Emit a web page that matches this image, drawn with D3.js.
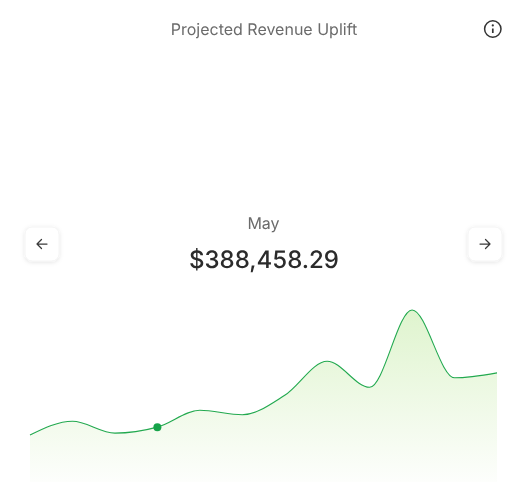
<!DOCTYPE html>
<html><head><meta charset="utf-8">
<script src="https://cdn.jsdelivr.net/npm/d3@7/dist/d3.min.js"></script>
<style>html,body{margin:0;padding:0;background:#fff}svg{display:block}text{font-family:Inter,sans-serif;text-rendering:geometricPrecision}#txt{will-change:transform}</style>
</head><body>
<svg id="c" width="526" height="489"></svg>
<script>
const months = ["Feb","Mar","Apr","May","Jun","Jul","Aug","Sep","Oct","Nov","Dec","Jan"];
const revenue = [332000,430000,346000,388458.29,508000,476000,614000,855000,671000,1218000,738000,773000];
const selectedMonth = "May";
const title = "Projected Revenue Uplift";

const svg = d3.select("#c");
const x = d3.scalePoint().domain(months).range([30,497]);
const y = d3.scaleLinear().domain([0,1218000]).range([482,310]);

const defs = svg.append("defs");
const grad = defs.append("linearGradient").attr("id","g").attr("x1",0).attr("x2",0).attr("y1",0).attr("y2",1);
grad.append("stop").attr("offset",0).attr("stop-color","#dff4ce");
grad.append("stop").attr("offset",1).attr("stop-color","#fdfefc");
const sh = defs.append("filter").attr("id","sh").attr("x","-30%").attr("y","-30%").attr("width","160%").attr("height","160%");
sh.append("feDropShadow").attr("dx",0).attr("dy",1).attr("stdDeviation",2).attr("flood-color","#000").attr("flood-opacity",0.11);

const area = d3.area().x((d,i)=>x(months[i])).y0(y(0)).y1(d=>y(d)).curve(d3.curveMonotoneX);
const line = d3.line().x((d,i)=>x(months[i])).y(d=>y(d)).curve(d3.curveMonotoneX);
svg.append("path").attr("d",area(revenue)).attr("fill","url(#g)");
svg.append("path").attr("d",line(revenue)).attr("fill","none").attr("stroke","#22a94f").attr("stroke-width",1.1);
const si = months.indexOf(selectedMonth);
svg.append("circle").attr("cx",x(selectedMonth)).attr("cy",y(revenue[si])).attr("r",4).attr("fill","#16a34a");

const txt = svg.append("g").attr("id","txt");
txt.append("text").attr("x",264).attr("y",35).attr("text-anchor","middle").attr("font-size",16).attr("fill","#6b6b6b").text(title);
txt.append("text").attr("x",263.5).attr("y",229).attr("text-anchor","middle").attr("font-size",16).attr("fill","#6b6b6b").text(selectedMonth);
txt.append("text").attr("x",264).attr("y",268).attr("text-anchor","middle").attr("font-size",24).attr("font-weight",500).attr("fill","#2b2b2b").text(d3.format("$,.2f")(revenue[si]));

// info icon
const info = svg.append("g").attr("transform","translate(492.8,29)").attr("fill","none").attr("stroke","#333");
info.append("circle").attr("r",8.2).attr("stroke-width",1.5);
info.append("line").attr("y1",-0.5).attr("y2",4).attr("stroke-width",1.7);
info.append("circle").attr("cy",-3.6).attr("r",1.1).attr("fill","#333").attr("stroke","none");

// nav buttons
function btn(cx,dir){
  const g = svg.append("g").attr("transform",`translate(${cx},244)`);
  g.append("rect").attr("x",-17).attr("y",-17).attr("width",34).attr("height",34).attr("rx",7).attr("fill","#fff").attr("stroke","#f4f4f4").attr("filter","url(#sh)");
  g.append("path").attr("d",`M${-5*dir} 0H${5*dir}M${-0.5*dir} -4.5L${-5*dir} 0L${-0.5*dir} 4.5`).attr("fill","none").attr("stroke","#3a3a3a").attr("stroke-width",1.25).attr("stroke-linecap","round").attr("stroke-linejoin","round");
}
btn(42,1);
btn(485,-1);
</script>
</body></html>
